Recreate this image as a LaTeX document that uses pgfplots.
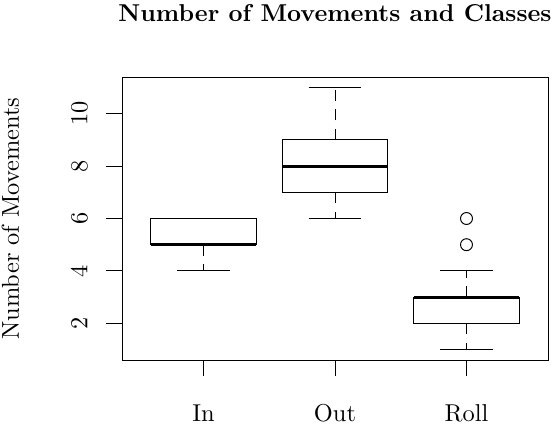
\documentclass[border=0pt]{standalone}
\usepackage{pgfplots}
\pgfplotsset{compat=1.18}
\usepgfplotslibrary{statistics}
\begin{document}
\begin{tikzpicture}
\useasboundingbox (-49.84bp,-28.19bp) rectangle (176.47bp,147.06bp);
\begin{axis}[
  scale only axis,
  width=174.02bp, height=115.61bp,
  xmin=0.38, xmax=3.62, ymin=0.6, ymax=11.4,
  xtick={1,2,3}, xticklabels={In,Out,Roll},
  ytick={2,4,6,8,10},
  tick pos=left, tick align=outside,
  major tick length=6.54bp,
  every tick/.style={black, line width=0.4pt},
  axis line style={line width=0.4pt},
  yticklabel style={xshift=-7.6bp, rotate=90, anchor=base},
  xticklabel style={anchor=base, yshift=-18.7bp},
  title={\bfseries Number of Movements and Classes},
  every axis title/.style={at={(axis description cs:0.5,1)}, anchor=base, yshift=22.59bp},
  ylabel={Number of Movements},
  every axis y label/.style={at={(axis description cs:0,0.5)}, xshift=-42.08bp, rotate=90, anchor=base},
  boxplot/draw direction=y,
  boxplot/every median/.style={line width=1.2pt},
  boxplot/draw/lower whisker/.code={%
    \draw[dash pattern=on 4.5bp off 3.5bp] (boxplot cs:\pgfplotsboxplotvalue{lower quartile}) -- (boxplot cs:\pgfplotsboxplotvalue{lower whisker});
    \draw (boxplot whisker cs:\pgfplotsboxplotvalue{lower whisker},0) -- (boxplot whisker cs:\pgfplotsboxplotvalue{lower whisker},1);
  },
  boxplot/draw/upper whisker/.code={%
    \draw[dash pattern=on 4.5bp off 3.5bp] (boxplot cs:\pgfplotsboxplotvalue{upper quartile}) -- (boxplot cs:\pgfplotsboxplotvalue{upper whisker});
    \draw (boxplot whisker cs:\pgfplotsboxplotvalue{upper whisker},0) -- (boxplot whisker cs:\pgfplotsboxplotvalue{upper whisker},1);
  },
]
\addplot[black, line width=0.4pt, boxplot prepared={draw position=1, lower whisker=4, lower quartile=5, median=5, upper quartile=6, upper whisker=6, box extend=0.8, whisker extend=0.4}] coordinates {};
\addplot[black, line width=0.4pt, boxplot prepared={draw position=2, lower whisker=6, lower quartile=7, median=8, upper quartile=9, upper whisker=11, box extend=0.8, whisker extend=0.4}] coordinates {};
\addplot[black, line width=0.4pt, mark=o, mark size=2.45pt, mark options={solid, line width=0.4pt}, boxplot prepared={draw position=3, lower whisker=1, lower quartile=2, median=3, upper quartile=3, upper whisker=4, box extend=0.8, whisker extend=0.4}] table[row sep=\\, y index=0] {data\\ 5\\ 6\\};
\end{axis}
\end{tikzpicture}
\end{document}
